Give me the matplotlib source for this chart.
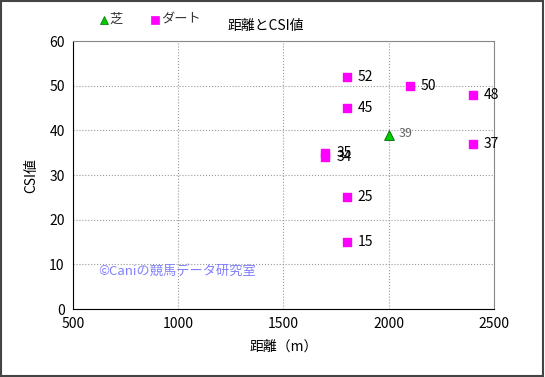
import matplotlib.pyplot as plt
from matplotlib.patches import Rectangle
from matplotlib.lines import Line2D

plt.rcParams['font.family'] = ['Noto Sans CJK JP', 'DejaVu Sans']

turf_dist = [2000]
turf_csi = [39]
dirt_dist = [1800, 1800, 1800, 1800, 1700, 1700, 2100, 2400, 2400]
dirt_csi = [52, 45, 25, 15, 35, 34, 50, 48, 37]

fig = plt.figure(figsize=(5.45, 3.77), dpi=100)
ax = fig.add_axes([0.134, 0.180, 0.772, 0.711])

ax.scatter(dirt_dist, dirt_csi, marker='s', s=40, color='#ff00ff', zorder=3)
ax.scatter(turf_dist, turf_csi, marker='^', s=50, color='#00cc00', edgecolors='#006600',
           linewidths=0.6, zorder=3)

for x, y in zip(dirt_dist, dirt_csi):
    ax.annotate(str(y), (x, y), xytext=(8, 0), textcoords='offset points',
                va='center', fontsize=10, color='black')
for x, y in zip(turf_dist, turf_csi):
    ax.annotate(str(y), (x, y), xytext=(7, 1), textcoords='offset points',
                va='center', fontsize=9, color='#666666')

ax.set_xlim(500, 2500)
ax.set_ylim(0, 60)
ax.set_xticks([500, 1000, 1500, 2000, 2500])
ax.set_yticks(range(0, 61, 10))
ax.tick_params(length=0, labelsize=10, pad=6)
ax.grid(True, color='#999999', linestyle=':', linewidth=0.8)
ax.set_axisbelow(True)
for s in ['top', 'right']:
    ax.spines[s].set_color('#888888')
for s in ['left', 'bottom']:
    ax.spines[s].set_color('black')

ax.set_xlabel('距離（m）', fontsize=10, labelpad=6)
ax.set_ylabel('CSI値', fontsize=10, labelpad=8)
fig.text(0.488, 0.930, '距離とCSI値', ha='center', va='center', fontsize=10)

ax.text(0.06, 0.14, '©Caniの競馬データ研究室', transform=ax.transAxes,
        color='#8080ff', fontsize=9.5, va='center')

# legend drawn by hand above the plot, left of the title
legend_items = [('芝', '^', '#00cc00', 0.191), ('ダート', 's', '#ff00ff', 0.285)]
for label, mk, col, lx in legend_items:
    fig.add_artist(Line2D([lx], [0.946], marker=mk, color=col, markersize=6,
                          markeredgecolor=col if mk == 's' else '#006600',
                          markeredgewidth=0.5, linestyle='none',
                          transform=fig.transFigure))
    fig.text(lx + 0.01, 0.948, label, ha='left', va='center', fontsize=9.5, color='#333333')

fig.patches.append(Rectangle((0.002, 0.003), 0.995, 0.994, transform=fig.transFigure,
                             fill=False, edgecolor='#444444', linewidth=1.5))

fig.savefig('out.png', dpi=100)
